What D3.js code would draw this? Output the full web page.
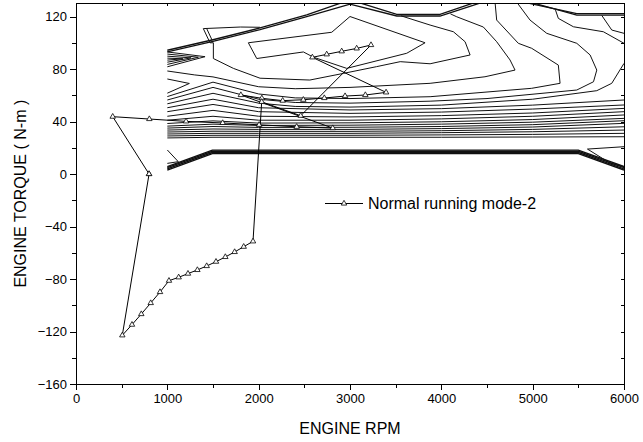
<!DOCTYPE html>
<html lang="en">
<head>
    <meta charset="UTF-8">
    <title>Engine map - Normal running mode-2</title>
    <script src="https://d3js.org/d3.v7.min.js"></script>
    <style>
        body { margin: 0; background: #fff; }
        text { font-family: "Liberation Sans", Arial, sans-serif; fill: #000; }
        .axis path, .axis line { stroke: #000; stroke-width: 1px; shape-rendering: crispEdges; }
        .axis text { font-size: 13px; }
        .axis-label { font-size: 16px; }
        .contour { fill: none; stroke: #111; stroke-width: 1px; }
        .run { fill: none; stroke: #000; stroke-width: 1px; }
    </style>
</head>
<body>
<svg width="643" height="442"></svg>
<script>
    // ---- data (rpm, N-m) ----
    const xTicks = [0, 1000, 2000, 3000, 4000, 5000, 6000];
    const yTicks = [-160, -120, -80, -40, 0, 40, 80, 120];

    const runRpm = [800, 402, 803, 1205, 1606, 2005, 2416, 2811, 1805, 2035, 2263, 2489, 2719, 2946, 3168, 3395,
        2588, 2745, 2909, 3073, 3230, 2460, 2033, 1938, 1836, 1737, 1635, 1533, 1431, 1329, 1226, 1124, 1018,
        920, 818, 715, 613, 507, 800];
    const runTorque = [0, 43.7, 41.9, 40.1, 38.9, 37.5, 36, 35, 60.2, 57.7, 55.9, 56.6, 57.9, 59.4, 60.2, 62.2,
        88.9, 91.2, 93.5, 95.7, 98.3, 44.4, 55, -51.3, -55.4, -59.4, -63.2, -66.8, -70.1, -73.1, -75.9, -78.7, -81.3,
        -89.9, -98.3, -106.7, -114.8, -122.9, 0];

    // dense band of contours, torque at each band rpm
    const bandRpm = [1000, 1500, 2000, 3000, 4000, 5000, 6000];
    const bandTorque = [
        [27.5, 28, 28, 28, 28, 28.2, 28.4],
        [29, 29.5, 29.5, 29.5, 29.8, 30.2, 31],
        [30.5, 31, 31, 31, 31.5, 32.2, 33.5],
        [32, 32.6, 32.5, 32.5, 33, 34, 36],
        [33.5, 34.3, 34, 34, 34.6, 35.8, 38.6],
        [35, 36.2, 35.5, 35.6, 36.2, 37.6, 40.6],
        [36.5, 38, 37, 37.2, 38, 39.5, 42.4],
        [38.5, 40.5, 38.8, 39, 39.8, 41.5, 45],
        [41, 44, 41, 41, 42, 44, 47.5],
        [44, 48.5, 44, 43.5, 44.5, 46.5, 50],
        [47.5, 53, 47.5, 46.2, 47.2, 49.5, 52.6],
        [50.5, 57, 50.5, 48.8, 49.8, 52.5, 56.4]
    ];

    // loops that come down from the top and run back to the left
    const loopLines = [
        [[2015, 111.8], [1800, 112], [1394, 110.8], [1467, 100], [1504, 100], [1504, 88], [1723, 80.5], [2015, 73],
         [2560, 71.6], [2930, 76.7], [3290, 81.8], [3550, 85.6], [3877, 84], [4315, 90.7], [4260, 100.8],
         [4132, 108.4], [3877, 113.5], [3560, 120.5]],
        [[4100, 122], [4169, 119.8], [4460, 112], [4606, 100.8], [4752, 86.9], [4807, 79.2], [4478, 74.1],
         [3877, 69.1], [3000, 66], [2400, 65], [2000, 66.5], [1500, 74], [1300, 75.5], [1000, 78.5]],
        [[4588, 131], [4606, 117.3], [4843, 99.6], [4989, 95.8], [5281, 83], [5300, 69.1], [4989, 65.3],
         [3877, 58.9], [3000, 57.5], [2400, 58], [2000, 61], [1500, 70], [1000, 59]],
        [[4825, 131], [4971, 117.3], [5154, 107.2], [5483, 99.6], [5629, 90.7], [5702, 79.2], [5666, 70.3],
         [5483, 64], [4500, 57.5], [3877, 55.5], [3000, 54], [2400, 54.5], [2000, 57], [1500, 66], [1000, 56.4]],
        [[6000, 84.3], [5866, 69.1], [5702, 63.5], [5000, 57], [4000, 52.5], [3000, 51], [2400, 51.5],
         [2000, 54], [1500, 61.5], [1000, 53.5]]
    ];

    const islandLine = [[1887, 100], [1979, 88], [2490, 93], [2600, 89], [2964, 80.5], [3621, 92], [3822, 100],
        [3000, 120], [2800, 108], [1887, 100]];

    // short pieces near the edges of the map
    const edgeLines = [
        [[1431, 110.8], [1490, 102]],
        [[1000, 93], [1413, 89.4], [1000, 81.7]],
        [[1000, 91.4], [1340, 89], [1000, 83.5]],
        [[1000, 89.8], [1260, 88.5], [1000, 85.2]],
        [[1000, 88.3], [1170, 87.8], [1000, 86.8]],
        [[1000, 72.4], [1241, 69], [1000, 61.6]],
        [[1000, 18.3], [1120, 9.4], [1000, 8.1]],
        [[6000, 20.8], [5600, 19], [5850, 8.2], [6000, 5.6]],
        [[5250, 124.9], [5281, 118.6], [5446, 112.2], [5774, 108.4], [6000, 99.6]],
        [[5757, 120.8], [5866, 109.7], [6000, 107.2]]
    ];

    // max torque envelope (drawn doubled) and zero torque line (drawn fourfold)
    const envelopeLines = [
        [[1000, 93], [1500, 101], [2015, 110], [2526, 120], [3000, 129.5], [3512, 120.4], [3986, 120.4], [4457, 131]],
        [[1000, 94.3], [1500, 102.3], [2015, 111.3], [2526, 121.3], [2930, 131]],
        [[3080, 131], [3512, 121.7], [3986, 121.7], [4380, 131]],
        [[4971, 131], [5483, 121], [6000, 121]],
        [[4900, 131], [5483, 122.2], [6000, 122.2]]
    ];
    const zeroLine = [[1000, 3], [1493, 15.5], [5500, 15.5], [6000, 3]];
    const zeroOffsets = [0, 0.9, 1.8, 2.7];

    // ---- setup ----
    const svg = d3.select("svg"),
        margin = { top: 3.4, right: 19, bottom: 58, left: 76 },
        W = +svg.attr("width"), H = +svg.attr("height");

    const x = d3.scaleLinear().domain([0, 6000]).range([margin.left, W - margin.right]);
    const y = d3.scaleLinear().domain([-160, 130]).range([H - margin.bottom, margin.top]);

    svg.append("clipPath").attr("id", "plot")
        .append("rect")
        .attr("x", x(0)).attr("y", y(130))
        .attr("width", x(6000) - x(0)).attr("height", y(-160) - y(130));

    const line = d3.line().x(d => x(d[0])).y(d => y(d[1]));
    const map = svg.append("g").attr("clip-path", "url(#plot)");

    // contour lines
    const bandLines = bandTorque.map(row => row.map((t, i) => [bandRpm[i], t]));
    map.selectAll(".band").data(bandLines).enter().append("path")
        .attr("class", "contour").attr("d", line);
    map.selectAll(".loop").data(loopLines.concat([islandLine], edgeLines)).enter().append("path")
        .attr("class", "contour").attr("d", line);
    map.selectAll(".env").data(envelopeLines).enter().append("path")
        .attr("class", "contour").style("stroke-width", 1.3).attr("d", line);
    map.selectAll(".zero").data(zeroOffsets).enter().append("path")
        .attr("class", "contour").style("stroke-width", 1.4)
        .attr("d", o => line(zeroLine.map(p => [p[0], p[1] + o])));

    // running mode line + triangles
    const run = runRpm.map((r, i) => [r, runTorque[i]]);
    map.append("path").datum(run).attr("class", "run").attr("d", line);
    const tri = d3.symbol().type(d3.symbolTriangle).size(13);
    map.selectAll(".pt").data(run).enter().append("path")
        .attr("d", tri)
        .attr("transform", d => `translate(${x(d[0])},${y(d[1])})`)
        .style("fill", "#fff").style("stroke", "#000").style("stroke-width", 0.8);

    // ---- axes ----
    const minorX = d3.range(500, 6000, 1000);
    const minorY = d3.range(-140, 130, 40);
    const fmt = d3.format("d");

    svg.append("g").attr("class", "axis")
        .attr("transform", `translate(0,${y(-160)})`)
        .call(d3.axisBottom(x).tickValues(xTicks).tickFormat(fmt).tickSize(6).tickPadding(4).tickSizeOuter(0));
    svg.append("g").attr("class", "axis")
        .attr("transform", `translate(0,${y(-160)})`)
        .call(d3.axisBottom(x).tickValues(minorX).tickSize(4).tickFormat("").tickSizeOuter(0));
    svg.append("g").attr("class", "axis")
        .attr("transform", `translate(${x(0)},0)`)
        .call(d3.axisLeft(y).tickValues(yTicks).tickFormat(fmt).tickSize(6).tickPadding(3).tickSizeOuter(0));
    svg.append("g").attr("class", "axis")
        .attr("transform", `translate(${x(0)},0)`)
        .call(d3.axisLeft(y).tickValues(minorY).tickSize(4).tickFormat("").tickSizeOuter(0));
    // top and right: inward ticks
    svg.append("g").attr("class", "axis")
        .attr("transform", `translate(0,${y(130)})`)
        .call(d3.axisTop(x).tickValues(d3.range(500, 6000, 500)).tickSize(-3).tickFormat("").tickSizeOuter(0));
    svg.append("g").attr("class", "axis")
        .attr("transform", `translate(${x(6000)},0)`)
        .call(d3.axisRight(y).tickValues(d3.range(-140, 130, 20)).tickSize(-3).tickFormat("").tickSizeOuter(0));

    // frame
    svg.append("rect")
        .attr("x", x(0)).attr("y", y(130))
        .attr("width", x(6000) - x(0)).attr("height", y(-160) - y(130))
        .style("fill", "none").style("stroke", "#000").style("stroke-width", 1)
        .style("shape-rendering", "crispEdges");

    // axis titles
    svg.append("text").attr("class", "axis-label")
        .attr("x", x(3000)).attr("y", 434)
        .style("text-anchor", "middle")
        .text("ENGINE RPM");
    svg.append("text").attr("class", "axis-label")
        .attr("transform", `translate(26,${(y(130) + y(-160)) / 2}) rotate(-90)`)
        .style("text-anchor", "middle")
        .text("ENGINE TORQUE ( N-m )");

    // legend
    svg.append("line")
        .attr("x1", 325).attr("x2", 363).attr("y1", 203.5).attr("y2", 203.5)
        .style("stroke", "#000").style("stroke-width", 1);
    svg.append("path").attr("d", tri)
        .attr("transform", "translate(344,203.5)")
        .style("fill", "#fff").style("stroke", "#000").style("stroke-width", 0.8);
    svg.append("text")
        .attr("x", 368).attr("y", 209)
        .style("font-size", "16px")
        .text("Normal running mode-2");
</script>
</body>
</html>
